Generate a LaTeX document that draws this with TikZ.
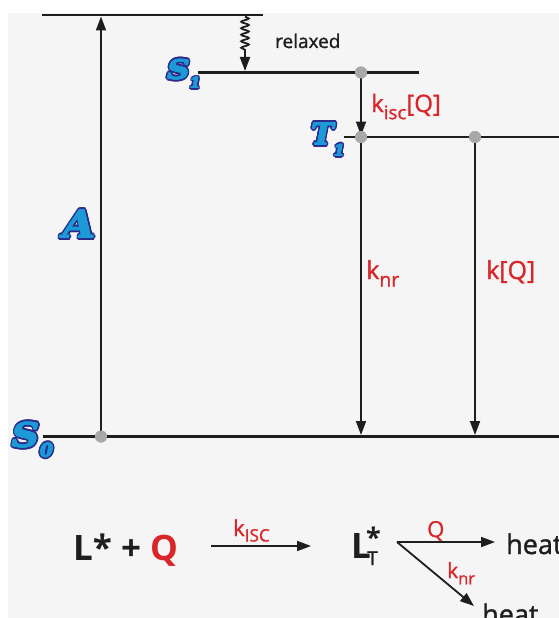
\documentclass[tikz,border=0pt]{standalone}
\usepackage{fontspec}
\setmainfont{Open Sans}
\newfontfamily\labfont{Open Sans}[FakeBold=1.2]
\newfontfamily\fancyfont{DejaVu Serif}
\usetikzlibrary{arrows.meta,decorations.pathmorphing}
\definecolor{bgc}{HTML}{F5F5F5}
\definecolor{lnc}{HTML}{1E1E1E}
\definecolor{rd}{HTML}{D9262A}
\definecolor{cy}{HTML}{1B9AD6}
\definecolor{nv}{HTML}{2B2C8C}
\definecolor{dotc}{HTML}{A8A8A8}
\newcommand\lsub[2][0.3em]{\raisebox{-#1}{\scalebox{0.78}{#2}}}
\newcommand\fsub[3]{\kern0.02em\raisebox{-#1}{\scalebox{#2}{#3}}}
\newcommand\fancylabel[4]{%
  \foreach \ang in {0,22.5,...,337.5}
    \node[fancytxt,text=nv,font={\fancyfont\bfseries\itshape\fontsize{#3}{#3}\selectfont}]
      at ([shift={(\ang:2.2pt)}]#2) {#4};
  \foreach \ang in {0,45,...,315}
    \node[fancytxt,text=cy,font={\fancyfont\bfseries\itshape\fontsize{#3}{#3}\selectfont}]
      at ([shift={(\ang:0.6pt)}]#2) {#4};
  \node[fancytxt,text=cy,font={\fancyfont\bfseries\itshape\fontsize{#3}{#3}\selectfont}]
    (#1) at (#2) {#4};
}
\begin{document}
\begin{tikzpicture}[x=1pt,y=-1pt,
  fancytxt/.style={anchor=base west,inner sep=0pt},
  level/.style={draw=lnc,line width=2.8pt},
  trans/.style={draw=lnc,line width=1.8pt,-{Triangle[length=14pt,width=10pt]}},
  gdot/.style={circle,fill=dotc,inner sep=0pt,minimum size=12pt},
  ratelab/.style={text=rd,anchor=base west,inner sep=0pt,font=\labfont\fontsize{#1}{#1}\selectfont},
  plain/.style={text=lnc,anchor=base west,inner sep=0pt,font=\labfont\fontsize{#1}{#1}\selectfont},
  boldtxt/.style={text=lnc,anchor=base west,inner sep=0pt,font=\bfseries\fontsize{#1}{#1}\selectfont}]
\useasboundingbox (0,0) rectangle (559,618);
\fill[white] (0,0) rectangle (559,618);
\fill[bgc] (8,13) rectangle (559,618);
\clip (0,0) rectangle (559,618);

% level coordinates
\coordinate (top-l) at (42,15);
\coordinate (top-r) at (263,15);
\coordinate (s1-l) at (198,72.5);
\coordinate (s1-r) at (419,72.5);
\coordinate (t1-l) at (344,137);
\coordinate (t1-r) at (559,137);
\coordinate (s0-l) at (43,436.5);
\coordinate (s0-r) at (559,436.5);

\draw[level] (top-l) -- (top-r);
\draw[level] (s1-l) -- (s1-r);
\draw[level] (t1-l) -- (t1-r);
\draw[level] (s0-l) -- (s0-r);

% points
\coordinate (abs-top) at (101,16.5);
\coordinate (wav-top) at (245,16.5);
\coordinate (wav-bot) at (245,71);
\coordinate (knr-bot) at (361,435);
\coordinate (kq-bot) at (475,435);

\node[gdot] (d-s0) at (101,436.5) {};
\node[gdot] (d-s1) at (361,72.5) {};
\node[gdot] (d-t1) at (361,137) {};
\node[gdot] (d-t1b) at (475,137) {};

% transitions
\draw[trans] (d-s0.center) -- (abs-top);
\draw[trans,decorate,decoration={snake,amplitude=3.8pt,segment length=6.5pt,post length=18pt}] (wav-top) -- (wav-bot);
\draw[trans] (d-s1.center) -- (361,135.5);
\draw[trans] (d-t1.center) -- (knr-bot);
\draw[trans] (d-t1b.center) -- (kq-bot);

\node[gdot] at (101,436.5) {};
\node[gdot] at (361,72.5) {};
\node[gdot] at (361,137) {};
\node[gdot] at (475,137) {};

% labels
\node[plain=19] (relaxed) at (275,48) {relaxed};
\node[ratelab=24] (kisc) at (371,112) {k\lsub{isc}[Q]};
\node[ratelab=25] (knr) at (366,279) {k\lsub{nr}};
\node[ratelab=25] (kq) at (486,279) {k[Q]};

\fancylabel{lblS1}{167,79}{26}{\scalebox{1.2}[1]{S}\fsub{0.36em}{0.55}{1}}
\fancylabel{lblT1}{311,145}{30}{T\fsub{0.36em}{0.5}{1}}
\fancylabel{lblA}{63,238}{38}{\scalebox{1.1}[1]{A}}
\fancylabel{lblS0}{12,447}{33}{\scalebox{1.15}[1]{S}\fsub{0.3em}{0.55}{0}}

% reaction scheme
\node[boldtxt=35] (lq) at (73,560) {L* + \textcolor{rd}{Q}};
\coordinate (r1-s) at (211,546);
\coordinate (r1-e) at (311,546);
\draw[trans] (r1-s) -- (r1-e);
\node[ratelab=22] (kISC) at (233,536) {k\lsub[0.25em]{ISC}};
\node[boldtxt=35] (lt) at (351,558) {L};
\node[boldtxt=27] (lstar) at (366,547) {*};
\node[plain=19] (ltsub) at (367,565) {T};
\coordinate (br) at (397,542);
\coordinate (q-e) at (495,542);
\coordinate (nr-e) at (474,606);
\draw[trans] (br) -- (q-e);
\draw[trans] (br) -- (nr-e);
\node[ratelab=22] (qlab) at (427,537) {Q};
\node[ratelab=21] (knr2) at (447,578) {k\lsub{nr}};
\node[plain=27] (heat1) at (506,554) {heat};
\node[plain=27] (heat2) at (482,624) {heat};
\end{tikzpicture}
\end{document}
